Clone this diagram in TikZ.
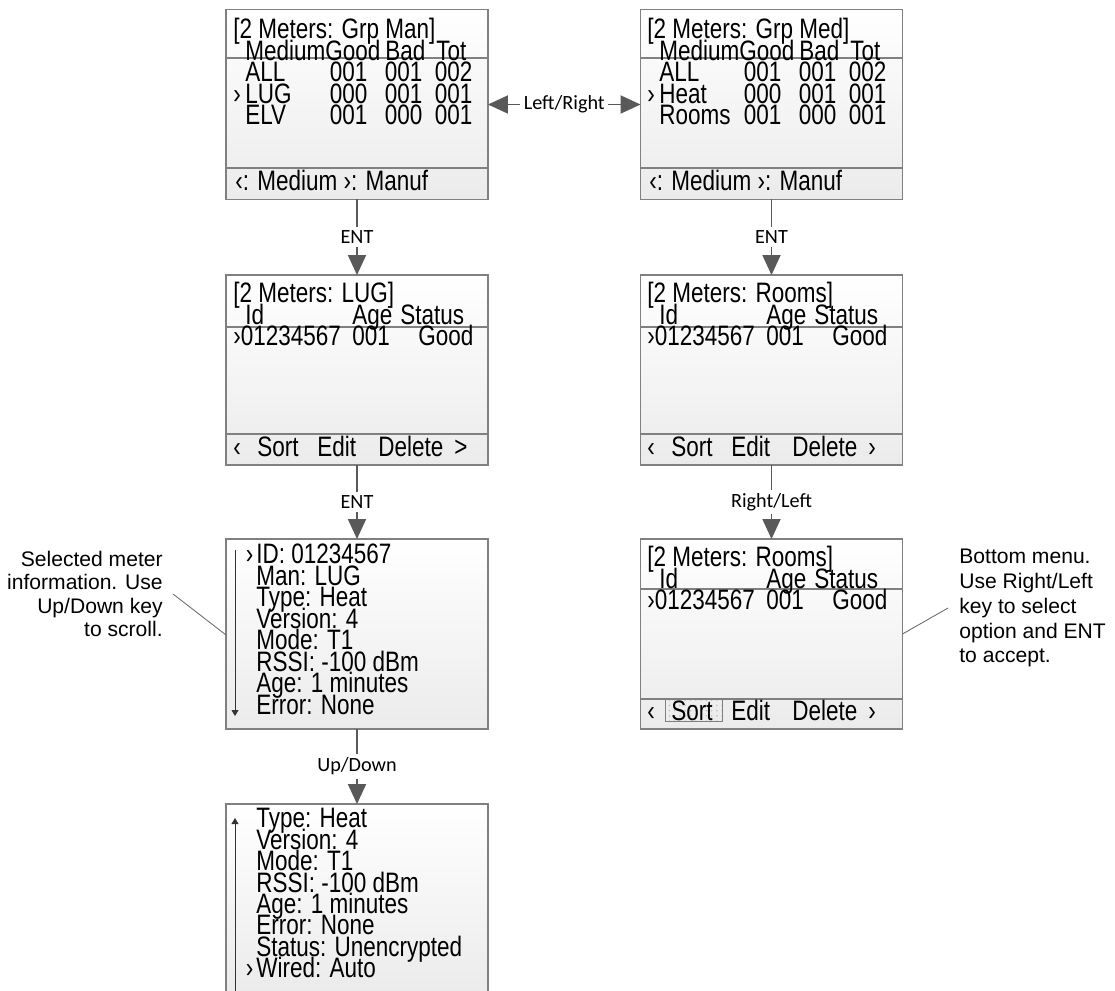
\documentclass[tikz,border=0pt]{standalone}
\usepackage{fontspec}
\setmainfont{Liberation Sans}
\newfontfamily\lcdfont[FakeStretch=0.8]{Liberation Sans}
\newfontfamily\keyfont{Carlito}
\usetikzlibrary{arrows.meta, patterns}
\definecolor{framegray}{HTML}{808080}
\definecolor{lcdlow}{HTML}{EBEBEB}
\definecolor{arrowgray}{HTML}{595959}
\definecolor{leadgray}{HTML}{6E6E6E}
\newlength{\pxu}\setlength{\pxu}{0.02cm}
\newcommand{\lcd}{\lcdfont\fontsize{16}{12.2}\selectfont\lineskiplimit=-100pt\relax}
% columns of the display screens
\newcommand{\grphead}{\makebox[12\pxu]{}\makebox[80\pxu][l]{Medium}\makebox[55\pxu][r]{Good}\makebox[45\pxu][r]{Bad}\makebox[41\pxu][r]{Tot}}
\newcommand{\grprow}[5]{\makebox[12\pxu][l]{#1}\makebox[68\pxu][l]{#2}\makebox[54\pxu][r]{#3}\makebox[55\pxu][r]{#4}\makebox[50\pxu][r]{#5}}
\newcommand{\idhead}{\makebox[119\pxu][l]{\hspace*{12\pxu}Id}\makebox[48\pxu][l]{Age}Status}
\newcommand{\idrow}{\makebox[119\pxu][l]{›01234567}\makebox[48\pxu][l]{001}\makebox[73\pxu][r]{Good}}
\newcommand{\editmenu}[1]{\makebox[24\pxu][l]{‹}\makebox[60\pxu][l]{Sort}\makebox[61\pxu][l]{Edit}\makebox[76\pxu][l]{Delete}#1}

\begin{document}
\begin{tikzpicture}[
    x=0.02cm, y=-0.02cm,
    screen/.style={draw=framegray, line width=0.7pt, top color=white, bottom color=lcdlow,
                   minimum width=5.24cm, minimum height=3.8cm, inner sep=0pt, outer sep=0pt},
    lcd/.style={font=\lcd, inner sep=0pt, align=left},
    sep/.style={draw=framegray, line width=0.7pt},
    flow/.style={draw=arrowgray, line width=1.1pt, -{Triangle[length=0.4cm, width=0.36cm]}},
    keylabel/.style={font=\keyfont\fontsize{11.5}{13}\selectfont, fill=white, inner sep=2pt},
    note/.style={font=\fontsize{12}{13.3}\selectfont, inner sep=0pt},
    leader/.style={draw=leadgray, line width=0.5pt},
    scrollbar/.style={draw=black!80, line width=0.5pt, -{Triangle[length=0.12cm, width=0.14cm]}},
    hilite/.style={draw=framegray, line width=0.5pt, pattern=dots, pattern color=gray!50},
  ]
  \useasboundingbox (0,0) rectangle (1115,990);

  % screens
  \node[screen] (grpman) at (357,104.5) {};
  \node[screen] (grpmed) at (771.5,104.5) {};
  \node[screen] (lstlug) at (357,370) {};
  \node[screen] (lstrooms) at (771.5,370) {};
  \node[screen] (info) at (357,634) {};
  \node[screen] (lstsel) at (771.5,634) {};
  \node[screen] (scroll) at (357,899) {};

  \foreach \scr/\ya/\yb in {grpman/58/168, grpmed/58/168, lstlug/327/434,
                            lstrooms/327/434, lstsel/589/699} {
    \draw[sep] (\scr.west |- 0,\ya) -- (\scr.east |- 0,\ya);
    \draw[sep] (\scr.west |- 0,\yb) -- (\scr.east |- 0,\yb);
  }

  % group screens
  \node[lcd, anchor=north west] (grpmantxt) at (233,18)
    {[2 Meters: Grp Man]\\\grphead\\\grprow{}{ALL}{001}{001}{002}\\
     \grprow{›}{LUG}{000}{001}{001}\\\grprow{}{ELV}{001}{000}{001}};
  \node[lcd, anchor=base west] (grpmanmenu) at (235,190) {‹: Medium ›: Manuf};
  \node[lcd, anchor=north west] (grpmedtxt) at (647,18)
    {[2 Meters: Grp Med]\\\grphead\\\grprow{}{ALL}{001}{001}{002}\\
     \grprow{›}{Heat}{000}{001}{001}\\\grprow{}{Rooms}{001}{000}{001}};
  \node[lcd, anchor=base west] (grpmedmenu) at (649,190) {‹: Medium ›: Manuf};

  % meter lists
  \node[lcd, anchor=north west] (lstlugtxt) at (233,282) {[2 Meters: LUG]\\\idhead\\\idrow};
  \node[lcd, anchor=base west] (lstlugmenu) at (233,456) {\editmenu{>}};
  \node[lcd, anchor=north west] (lstroomstxt) at (647,282) {[2 Meters: Rooms]\\\idhead\\\idrow};
  \node[lcd, anchor=base west] (lstroomsmenu) at (647,456) {\editmenu{›}};
  \draw[hilite] (665,699) rectangle (722,721);
  \node[lcd, anchor=north west] (lstseltxt) at (647,546) {[2 Meters: Rooms]\\\idhead\\\idrow};
  \node[lcd, anchor=base west] (lstselmenu) at (647,720) {\editmenu{›}};

  % meter details
  \node[lcd, anchor=north west] (infotxt) at (256,544)
    {\llap{›\hspace{3\pxu}}ID: 01234567\\Man: LUG\\Type: Heat\\Version: 4\\Mode: T1\\
     RSSI: -100 dBm\\Age: 1 minutes\\Error: None};
  \draw[scrollbar] (235,550) -- (235,716);
  \node[lcd, anchor=north west] (scrolltxt) at (256,808)
    {Type: Heat\\Version: 4\\Mode: T1\\RSSI: -100 dBm\\Age: 1 minutes\\Error: None\\
     Status: Unencrypted\\\llap{›\hspace{3\pxu}}Wired: Auto};
  \draw[scrollbar] (235,994) -- (235,818);

  % keys
  \draw[flow, {Triangle[length=0.4cm, width=0.36cm]}-{Triangle[length=0.4cm, width=0.36cm]}]
    (grpman) -- node[keylabel] (lr) {Left/Right} (grpmed);
  \draw[flow] (grpman) -- node[keylabel] (entman) {ENT} (lstlug);
  \draw[flow] (grpmed) -- node[keylabel] (entmed) {ENT} (lstrooms);
  \draw[flow] (lstlug) -- node[keylabel] (entlug) {ENT} (info);
  \draw[flow] (lstrooms) -- node[keylabel] (rl) {Right/Left} (lstsel);
  \draw[flow] (info) -- node[keylabel] (ud) {Up/Down} (scroll);

  % notes
  \node[note, align=right, anchor=east] (selnote) at (163,594)
    {Selected meter\\information. Use\\Up/Down key\\to scroll.};
  \node[note, align=left, anchor=west, font=\fontsize{12}{14.2}\selectfont] (menunote) at (959,608)
    {Bottom menu.\\Use Right/Left\\key to select\\option and ENT\\to accept.};
  \draw[leader] ([xshift=0.2cm]selnote.east) -- (info.west |- 0,635);
  \draw[leader] ([xshift=-0.22cm]menunote.west) -- (lstsel.east |- 0,634);
\end{tikzpicture}
\end{document}
